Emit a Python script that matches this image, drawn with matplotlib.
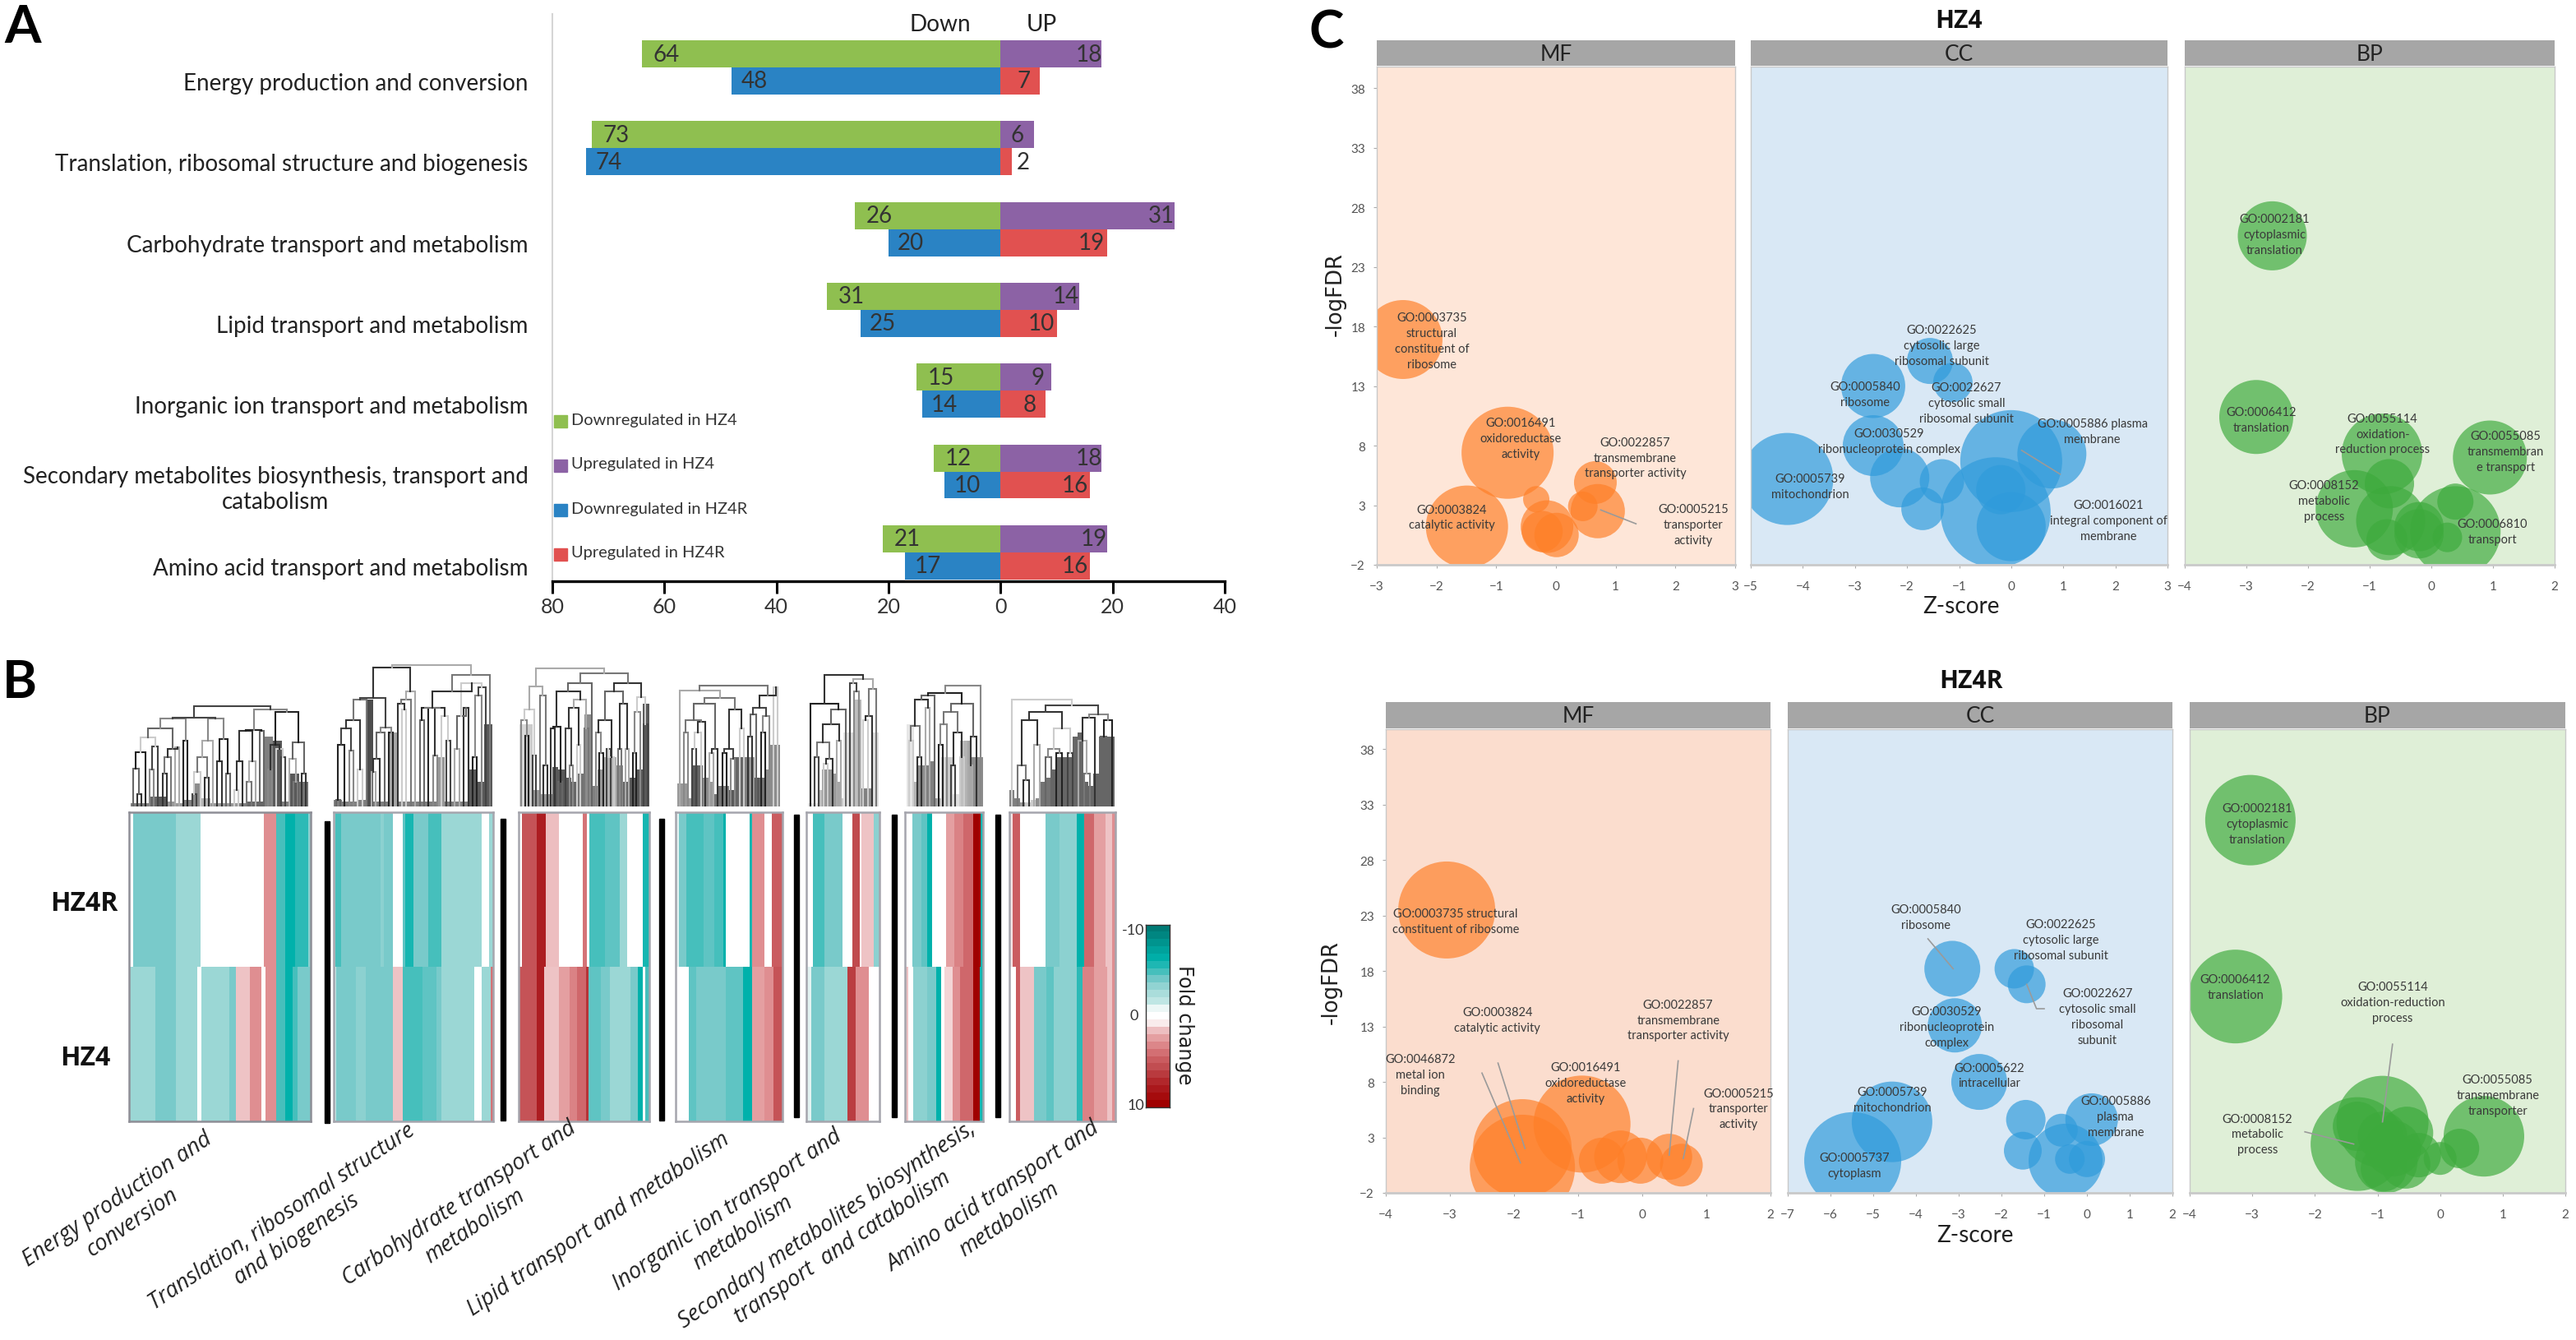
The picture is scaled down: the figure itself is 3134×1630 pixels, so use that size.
import matplotlib
matplotlib.use('Agg')
import matplotlib.pyplot as plt
import numpy as np
from matplotlib.colors import LinearSegmentedColormap

W, H = 3134, 1631
plt.rcParams['font.family'] = ['Lato', 'DejaVu Sans']

# ---- panel A data
cats = ['Energy production and conversion',
        'Translation, ribosomal structure and biogenesis',
        'Carbohydrate transport and metabolism',
        'Lipid transport and metabolism',
        'Inorganic ion transport and metabolism',
        'Secondary metabolites biosynthesis, transport and\ncatabolism',
        'Amino acid transport and metabolism']
down_hz4 = [64, 73, 26, 31, 15, 12, 21]
up_hz4 = [18, 6, 31, 14, 9, 18, 19]
down_hz4r = [48, 74, 20, 25, 14, 10, 17]
up_hz4r = [7, 2, 19, 10, 8, 16, 16]
legend_names = ['Downregulated in HZ4', 'Upregulated in HZ4',
                'Downregulated in HZ4R', 'Upregulated in HZ4R']

# ---- panel B data, fold change runs (value, run width) per category
p1_top_v = [0, -4, -3, 0, 3, -5, -6.5, -5.5, -3.5]
p1_top_n = [12, 115, 68, 173, 32, 25, 27, 36, 7]
p1_bot_v = [-3, -4, -3, 0, -3, -4, 1.5, 3, 0, 3, -5, -6.5, -5, -4]
p1_bot_n = [72, 55, 58, 13, 75, 19, 38, 30, 12, 28, 25, 20, 15, 35]
p2_top_v = [-1.5, -5, -4, -3.5, -4, 0, -4.5, -6, -4, -5, -3, 0, -3]
p2_top_n = [4, 16, 107, 10, 25, 25, 7, 23, 40, 37, 108, 20, 12]
p2_bot_v = [-1.5, -4, -3.5, -4, 1.5, -5, -4.5, -4, -3, 0, -3, 4]
p2_bot_n = [7, 53, 27, 75, 25, 55, 38, 14, 88, 20, 25, 7]
p3_top_v = [0, 5.5, 8, 1.7, 0, 4, 0, -5, -4.5, -3, 0, -6]
p3_top_n = [8, 42, 23, 35, 65, 12, 6, 42, 40, 20, 43, 20]
p3_bot_v = [5.5, 8, 1.5, 2.5, 3.5, 4.5, 7, -4.5, -4, -3, -4, -6.5, 0, -5]
p3_bot_n = [50, 20, 38, 30, 20, 25, 7, 33, 25, 55, 20, 13, 7, 13]
p4_top_v = [-1, -4, -5, -4.5, -5, -6.5, 0, -6, 3, 0, 5]
p4_top_n = [10, 20, 45, 30, 25, 7, 63, 8, 32, 20, 30]
p4_bot_v = [0, -4.5, -4, -4.5, -6.5, 2.5, 3, 5.5]
p4_bot_n = [35, 20, 80, 47, 26, 32, 25, 25]
p5_top_v = [0, -5, -4, 0, 6, 0, 1.5, -3.5]
p5_top_n = [17, 33, 50, 25, 20, 6, 34, 15]
p5_bot_v = [-1, -4, -3, 6.5, 3, 0]
p5_bot_n = [13, 37, 63, 22, 35, 30]
p6_top_v = [0, -4, -4.5, -6.5, 0, 2.5, 3.5, 4.5, 10, -6]
p6_top_n = [20, 25, 15, 13, 40, 22, 25, 27, 20, 6]
p6_bot_v = [1.5, 0, -3.5, -4, -6.5, 0, 1.2, 3, 4.5, 10, -6]
p6_bot_n = [8, 14, 38, 25, 13, 10, 22, 20, 35, 20, 8]
p7_top_v = [1, 5, 0, -4, -3.5, -6.5, 4.5, 2.5, 1.5, 3]
p7_top_n = [10, 20, 70, 37, 47, 21, 27, 30, 20, 8]
p7_bot_v = [0, 5, 1.5, -4, -4.5, -3.5, -5.5, 3.5, 2.5, 1.5, 3]
p7_bot_n = [17, 13, 37, 35, 20, 62, 16, 32, 35, 15, 8]

# dendrograms: (height, left, right), 0 is a leaf
tree1 = (122,
         (108,
          (107, (95, (84, (66, (46, 0, (15, 0, 0)), 0), (73, (45, 0, 0), 0)),
                 (70, (60, (40, 0, 0), 0), (72, 0, 0))), (80, 0, 0)),
          (107, (80, (60, (42, (15, 0, 0), 0), (35, 0, 0)), 0), (82, (55, 0, 0), (40, 0, 0)))),
         (118, (93, (92, (55, (20, 0, 0), 0), (55, (30, 0, 0), 0)), (92, 0, 0)),
          (115, (75, (45, 0, 0), (70, 0, (60, 0, 0))), (78, (58, 0, (30, 0, 0)), (40, 0, 0)))))
tree2 = (172,
         (169,
          (132,
           (130, (105, (95, (75, (8, 0, 0), 0), (68, 0, 0)), (45, 0, 0)), 0),
           (96, (90, (58, (42, 0, 0), 0), 0), (90, 0, 0))),
          (140, (130, (125, 0, (118, 0, 0)), 0), 0)),
         (160,
          (140, (120, (120, (105, 0, 0), 0), (120, (62, 0, 0), (110, 0, (80, 0, 0)))),
           (150, (110, (70, 0, 0), (120, 0, 0)), (145, (135, (60, 0, 0), 0), 0))),
          0))
tree3 = (168,
         (146, (118, (105, 0, (86, 0, 0)), (62, 0, 0)), (135, 0, (50, 0, 0))),
         (162,
          (150,
           (140, (97, (95, 0, 0), (30, 0, 0)), (130, (120, (95, 0, (50, 0, 0)), (75, 0, 0)), (95, 0, 0))),
           0),
          (150, (140, (105, (90, 0, (65, 0, 0)), (60, (70, 0, 0), 0)), (125, (70, 0, 0), (70, 0, 0))),
           (133, (115, (65, 0, 0), 0), (100, 0, 0)))))
tree4 = (147,
         (141, 0,
          (132, (125, (105, (90, 0, 0), (103, (90, (70, 0, 0), 0), 0)), (70, (65, 0, 0), 0)),
           (118, (70, (65, 0, 0), (58, 0, 0)), (95, 0, 0)))),
         (135, (120, (112, (85, 0, 0), 0), (110, (90, 0, 0), 0)), (145, 0, 0)))
tree5 = (160,
         (125, 0, (118, (100, (78, (60, 0, 0), (58, (52, 0, 0), 0)), (80, 0, 0)), 0)),
         (155, (150, 0, (140, 0, 0)), (143, (110, (105, 0, 0), 0), 0)))
tree6 = (147,
         (138,
          (135, (130, (98, (80, 0, 0), (60, 0, 0)), (120, 0, 0)), 0),
          (125, (115, (100, (75, 0, 0), 0), (90, (50, 0, 0), (60, 0, 0))), (85, (50, 0, 0), 0))),
         0)
tree7 = (130,
         0,
         (123, (115, (105, (50, 0, (32, 0, 0)), (75, 0, 0)), (95, (70, (60, 0, 0), (65, 0, 0)), (65, 0, 0))),
          (112, (108, (80, 0, (40, 0, 0)), 0), (105, (85, 0, 0), 0))))

# grey fill under the leaves
fill1_h = [4, 4, 12, 12, 6, 4, 8, 28, 10, 4, 4, 4, 4, 6, 6, 85, 80, 6, 40, 30]
fill1_g = [.5, .5, .4, .35, .6, .6, .5, .55, .7, .6, .6, .6, .5, .4, .4, .5, .35, .5, .35, .45]
fill2_h = [8, 6, 6, 8, 130, 6, 6, 90, 6, 6, 6, 6, 6, 60, 6, 6, 6, 45, 30, 100]
fill2_g = [.5, .5, .5, .5, .3, .5, .5, .65, .5, .5, .5, .5, .5, .6, .5, .5, .5, .35, .35, .35]
fill3_h = [100, 100, 20, 15, 15, 48, 45, 35, 30, 40, 112, 25, 45, 60, 60, 50, 30, 35, 45, 125]
fill3_g = [.85, .8, .6, .6, .6, .35, .35, .35, .4, .45, .55, .5, .6, .7, .7, .55, .4, .35, .35, .35]
fill4_h = [28, 28, 10, 50, 50, 35, 30, 15, 25, 25, 20, 60, 60, 60, 60, 35, 35, 45, 75, 75]
fill4_g = [.6, .6, .6, .35, .4, .55, .6, .45, .45, .5, .35, .4, .4, .5, .6, .35, .45, .55, .55, .55]
fill5_h = [4, 4, 4, 20, 45, 45, 45, 40, 30, 10, 90, 90, 90, 130, 130, 22, 22, 22, 90, 90]
fill5_g = [.9, .9, .9, .75, .6, .55, .6, .6, .65, .8, .9, .88, .85, .75, .72, .5, .5, .55, .88, .88]
fill6_h = [100, 100, 30, 50, 50, 50, 55, 10, 10, 60, 60, 60, 15, 15, 80, 80, 80, 60, 60, 60]
fill6_g = [.9, .9, .7, .55, .55, .5, .5, .6, .75, .85, .8, .8, .88, .88, .75, .7, .65, .55, .55, .55]
fill7_h = [20, 10, 5, 5, 8, 10, 30, 35, 45, 60, 60, 60, 85, 90, 30, 25, 40, 85, 85, 85]
fill7_g = [.5, .5, .6, .8, .8, .55, .45, .45, .4, .4, .4, .4, .4, .4, .4, .4, .4, .4, .4, .4]

cats_b = ['Energy production and\nconversion',
          'Translation, ribosomal structure\nand biogenesis',
          'Carbohydrate transport and\nmetabolism',
          'Lipid transport and metabolism',
          'Inorganic ion transport and\nmetabolism',
          'Secondary metabolites biosynthesis,\ntransport  and catabolism',
          'Amino acid transport and\nmetabolism']

# ---- panel C data, z-score, -logFDR and bubble radius
hz4_mf_x = [-2.56, -0.81, -1.49, 0.66, 0.70, -0.33, -0.23, 0.01, 0.45, -0.15]
hz4_mf_y = [16.9, 7.4, 1.2, 4.9, 2.5, 3.5, 0.8, 0.5, 2.9, 1.2]
hz4_mf_r = [48, 56, 50, 26, 33, 16, 25, 27, 18, 32]
hz4_cc_x = [-4.3, -2.65, -2.65, -1.56, -1.12, -2.14, -1.7, -1.33, 0.78, 0, -0.3, 0, -0.2]
hz4_cc_y = [5.2, 13, 8, 15.1, 13.3, 5.3, 2.7, 5, 7.3, 6.7, 2.4, 1.2, 4.3]
hz4_cc_r = [56, 39, 37, 28, 24, 36, 26, 27, 42, 62, 67, 42, 30]
hz4_bp_x = [-2.58, -2.84, -0.8, 0.95, -1.25, 0.39, -0.68, 0.39, -0.66, -0.2, -0.72, 0.26, -0.2]
hz4_bp_y = [25.6, 10.4, 7.3, 7, 2.7, 0.8, 4.8, 3.3, 1.7, 1.2, 0.1, 0.3, 0.6]
hz4_bp_r = [42, 45, 49, 45, 47, 55, 30, 22, 42, 30, 25, 18, 30]
hz4r_mf_x = [-3.05, -0.94, -1.87, -1.87, -0.34, -0.63, -0.03, 0.42, 0.61]
hz4r_mf_y = [23.5, 4.2, 2, 0.3, 1.25, 0.9, 0.9, 1.25, 0.5]
hz4r_mf_r = [59, 59, 60, 64, 32, 28, 28, 28, 26]
hz4r_cc_x = [-5.48, -4.56, -3.15, -3.09, -2.52, -1.7, -1.41, 0.11, -1.43, -1.5, -0.5, -0.6, 0, -0.4]
hz4r_cc_y = [0.9, 4.4, 18.2, 13.1, 8, 18.2, 16.8, 4.6, 4.6, 1.8, 0.9, 3.65, 1.05, 1.05]
hz4r_cc_r = [59, 49, 34, 33, 34, 24, 23, 32, 24, 23, 45, 20, 22, 18]
hz4r_bp_x = [-3.03, -3.27, -0.92, 0.7, -1.32, -0.92, -0.53, -0.86, -0.34, 0.31, 0, -1.32, -0.75, -0.55, -0.9]
hz4r_bp_y = [31.6, 15.7, 4.4, 3.1, 2.4, 3.1, 3.4, 0.8, 1.4, 2, 1.1, 4, 2, 0.6, 0.2]
hz4r_bp_r = [55, 57, 56, 49, 57, 30, 32, 38, 27, 24, 20, 30, 34, 30, 28]

hz4_mf_lab = ['GO:0003735\nstructural\nconstituent of\nribosome', 'GO:0016491\noxidoreductase\nactivity',
              'GO:0022857\ntransmembrane\ntransporter activity', 'GO:0003824\ncatalytic activity',
              'GO:0005215\ntransporter\nactivity']
hz4_cc_lab = ['GO:0022625\ncytosolic large\nribosomal subunit', 'GO:0005840\nribosome',
              'GO:0022627\ncytosolic small\nribosomal subunit', 'GO:0030529\nribonucleoprotein complex',
              'GO:0005886 plasma\nmembrane', 'GO:0005739\nmitochondrion',
              'GO:0016021\nintegral component of\nmembrane']
hz4_bp_lab = ['GO:0002181\ncytoplasmic\ntranslation', 'GO:0006412\ntranslation',
              'GO:0055114\noxidation-\nreduction process', 'GO:0055085\ntransmembran\ne transport',
              'GO:0008152\nmetabolic\nprocess', 'GO:0006810\ntransport']
hz4r_mf_lab = ['GO:0003735 structural\nconstituent of ribosome', 'GO:0003824\ncatalytic activity',
               'GO:0022857\ntransmembrane\ntransporter activity', 'GO:0046872\nmetal ion\nbinding',
               'GO:0016491\noxidoreductase\nactivity', 'GO:0005215\ntransporter\nactivity']
hz4r_cc_lab = ['GO:0005840\nribosome', 'GO:0022625\ncytosolic large\nribosomal subunit',
               'GO:0022627\ncytosolic small\nribosomal\nsubunit', 'GO:0030529\nribonucleoprotein\ncomplex',
               'GO:0005622\nintracellular', 'GO:0005739\nmitochondrion',
               'GO:0005886\nplasma\nmembrane', 'GO:0005737\ncytoplasm']
hz4r_bp_lab = ['GO:0002181\ncytoplasmic\ntranslation', 'GO:0006412\ntranslation',
               'GO:0055114\noxidation-reduction\nprocess', 'GO:0055085\ntransmembrane\ntransporter',
               'GO:0008152\nmetabolic\nprocess']


def px_axes(x0, y0, x1, y1):
    return fig.add_axes([x0 / W, 1 - y1 / H, (x1 - x0) / W, (y1 - y0) / H])


def px_text(x, y, s, px, **kw):
    kw.setdefault('ha', 'center')
    kw.setdefault('va', 'center')
    fig.text(x / W, 1 - y / H, s, fontsize=px * 0.72, **kw)


fig = plt.figure(figsize=(W / 100, H / 100), dpi=100)

# ---- A: bars
ax = px_axes(672, 18, 1490, 708)
ypos = np.arange(7)
bh = 0.335
ax.barh(ypos - bh / 2, [-v for v in down_hz4], bh, color='#8FBF50')
ax.barh(ypos - bh / 2, up_hz4, bh, color='#8C62A5')
ax.barh(ypos + bh / 2, [-v for v in down_hz4r], bh, color='#2A83C4')
ax.barh(ypos + bh / 2, up_hz4r, bh, color='#E15150')
ax.set_xlim(-80, 40)
ax.set_ylim(6.358, -0.661)
for i in ypos:
    ax.text(-down_hz4[i] + 4.4, i - bh / 2, down_hz4[i], ha='center', va='center', fontsize=20, color='#333333')
    ax.text(up_hz4[i] - 2.3 if up_hz4[i] > 6 else up_hz4[i] - 3, i - bh / 2, up_hz4[i], ha='center', va='center',
            fontsize=20, color='#333333')
    ax.text(-down_hz4r[i] + 4, i + bh / 2, down_hz4r[i], ha='center', va='center', fontsize=20, color='#333333')
    ux = up_hz4r[i] - 2.8 if up_hz4r[i] > 2 else up_hz4r[i] + 2
    ax.text(ux, i + bh / 2, up_hz4r[i], ha='center', va='center', fontsize=20, color='#333333')
ax.set_yticks(ypos + bh / 2, cats, fontsize=20, color='#222222', multialignment='center')
ax.tick_params(axis='y', length=0, pad=21)
ax.set_xticks([-80, -60, -40, -20, 0, 20, 40], ['80', '60', '40', '20', '0', '20', '40'], fontsize=18, color='#333333')
ax.tick_params(axis='x', length=11, width=2.2, pad=3)
for s in ['top', 'right']:
    ax.spines[s].set_visible(False)
ax.spines['left'].set_color('#D5D5D5')
ax.spines['left'].set_linewidth(1.5)
ax.spines['bottom'].set_linewidth(2.4)
px_text(1144, 30, 'Down', 28, color='#222222')
px_text(1267, 30, 'UP', 28, color='#222222')

# legend is hand placed in the reference
leg_colors = ['#8FBF50', '#8C62A5', '#2A83C4', '#E15150']
for name, col, yy in zip(legend_names, leg_colors, [513, 567, 621, 675]):
    fig.patches.append(plt.Rectangle((674 / W, 1 - (yy + 8) / H), 16 / W, 15 / H, color=col,
                                     transform=fig.transFigure))
    px_text(695, yy - 2, name, 20, ha='left', color='#333333')

px_text(28, 33, 'A', 64, fontweight='bold', color='black')
px_text(24, 831, 'B', 64, fontweight='bold', color='black')
px_text(1614, 40, 'C', 64, fontweight='bold', color='black')

# ---- B: heatmaps and dendrograms
fold_cmap = LinearSegmentedColormap.from_list('fold', [
    (0.0, '#007A75'), (0.1, '#009A94'), (0.175, '#00B2AC'), (0.25, '#45BFBC'), (0.3, '#7CCBCB'),
    (0.35, '#9CD8D6'), (0.425, '#C5E8E6'), (0.475, '#FFFFFF'), (0.525, '#FFFFFF'), (0.575, '#EFC5C7'),
    (0.65, '#E08F92'), (0.725, '#D0686C'), (0.8, '#C04A4E'), (0.9, '#AD1E22'), (1.0, '#A00000')], N=256)

heat_x = [(157, 378), (406, 600), (631, 790), (822, 952), (981, 1070), (1101, 1196), (1228, 1357)]
dendro_x = [(159, 375), (406, 599), (632, 790), (824, 949), (983, 1069), (1103, 1196), (1228, 1356)]
heat_rows = [(p1_top_v, p1_top_n, p1_bot_v, p1_bot_n), (p2_top_v, p2_top_n, p2_bot_v, p2_bot_n),
             (p3_top_v, p3_top_n, p3_bot_v, p3_bot_n), (p4_top_v, p4_top_n, p4_bot_v, p4_bot_n),
             (p5_top_v, p5_top_n, p5_bot_v, p5_bot_n), (p6_top_v, p6_top_n, p6_bot_v, p6_bot_n),
             (p7_top_v, p7_top_n, p7_bot_v, p7_bot_n)]
trees = [tree1, tree2, tree3, tree4, tree5, tree6, tree7]
fills_h = [fill1_h, fill2_h, fill3_h, fill4_h, fill5_h, fill6_h, fill7_h]
fills_g = [fill1_g, fill2_g, fill3_g, fill4_g, fill5_g, fill6_g, fill7_g]
line_greys = ['#333333', '#666666', '#222222', '#888888', '#444444', '#cccccc', '#333333', '#777777', '#aaaaaa']
sep_bars = [(398, 1000, 1367), (612, 997, 1364), (805, 997, 1364), (969, 992, 1360),
            (1088, 992, 1360), (1214, 992, 1360)]


def count_leaves(t):
    return 1 if not isinstance(t, tuple) else count_leaves(t[1]) + count_leaves(t[2])


def draw_tree(ax, t, state):
    if not isinstance(t, tuple):
        state['x'] += 1
        return state['x'] - 0.5, 0
    xl, hl = draw_tree(ax, t[1], state)
    xr, hr = draw_tree(ax, t[2], state)
    col = line_greys[state['c'] % len(line_greys)]
    state['c'] += 1
    ax.plot([xl, xl, xr, xr], [hl, t[0], t[0], hr], color=col, lw=1.5, solid_joinstyle='miter')
    return (xl + xr) / 2, t[0]


for i in range(7):
    x0, x1 = heat_x[i]
    ax = px_axes(x0, 989, x1, 1365)
    tv, tn, bv, bn = heat_rows[i]
    mat = np.vstack([np.repeat(tv, tn), np.repeat(bv, bn)])
    ax.imshow(mat, cmap=fold_cmap, vmin=-10, vmax=10, aspect='auto', interpolation='nearest')
    ax.set_xticks([])
    ax.set_yticks([])
    for s in ax.spines.values():
        s.set_color('#A5A5AD' if i > 0 else '#8E8E96')
        s.set_linewidth(1.8)

    dx0, dx1 = dendro_x[i]
    ax = px_axes(dx0, 792, dx1, 982)
    n = count_leaves(trees[i])
    nb = len(fills_h[i])
    bw = n / nb
    ax.bar((np.arange(nb) + 0.5) * bw, fills_h[i], width=bw, color=[str(g) for g in fills_g[i]], lw=0)
    draw_tree(ax, trees[i], {'x': 0, 'c': i})
    ax.set_xlim(0, n)
    ax.set_ylim(0, 190)
    ax.axis('off')

for x, y0, y1 in sep_bars:
    fig.patches.append(plt.Rectangle(((x - 3) / W, 1 - y1 / H), 6 / W, (y1 - y0) / H, color='black',
                                     transform=fig.transFigure))

px_text(102, 1100, 'HZ4R', 32, fontweight='bold', color='#111111', family=['Open Sans', 'DejaVu Sans'])
px_text(104, 1288, 'HZ4', 32, fontweight='bold', color='#111111', family=['Open Sans', 'DejaVu Sans'])

label_centres = [(152, 1473), (352, 1494), (568, 1478), (728, 1490), (894, 1486), (1016, 1504), (1218, 1470)]
for (x, y), s in zip(label_centres, cats_b):
    px_text(x, y, s, 27, rotation=34, style='italic', color='#222222', multialignment='center',
            rotation_mode='anchor', linespacing=1.25, family=['Open Sans', 'DejaVu Sans'])

# colour key
ax = px_axes(1394, 1126, 1423, 1348)
ax.imshow(np.linspace(-10, 10, 25)[:, None], cmap=fold_cmap, vmin=-10, vmax=10, aspect='auto',
          interpolation='nearest')
ax.set_xticks([])
ax.set_yticks([])
for s in ax.spines.values():
    s.set_linewidth(1)
    s.set_color('#333333')
px_text(1392, 1132, '-10', 18, ha='right', color='#333333')
px_text(1385, 1236, '0', 18, ha='right', color='#333333')
px_text(1392, 1345, '10', 18, ha='right', color='#333333')
px_text(1441, 1247, 'Fold change', 24, rotation=270, color='#222222', family=['DejaVu Sans'])

# ---- C: facets
BG_BLUE = '#D9E8F5'
BG_GREEN = '#DFEFD7'
ORANGE = '#FF7F27'
BLUE = '#2F9BDB'
GREEN = '#3DAA3C'
Y_TICKS = [-2, 3, 8, 13, 18, 23, 28, 33, 38]


def facet(rect, strip_top, xlim, title, bg, col, xs, ys, rs, labs, lab_pos, leaders, show_y):
    ax = px_axes(*rect)
    ax.set_facecolor(bg)
    ax.scatter(xs, ys, s=[(2 * r * 0.72) ** 2 for r in rs], color=col, alpha=0.68, linewidths=0, zorder=2)
    for (lx, ly) in leaders:
        ax.plot(lx, ly, color='#9a9a9a', lw=1.2, zorder=3)
    for s, (tx, ty) in zip(labs, lab_pos):
        ax.text(tx, ty, s, ha='center', va='center', fontsize=10.5, color='#3a3a3a', linespacing=1.45, zorder=4,
                clip_on=False)
    ax.set_xlim(*xlim)
    ax.set_ylim(-2, 39.8)
    ax.set_xticks(np.arange(xlim[0], xlim[1] + 1))
    ax.tick_params(axis='x', labelsize=11, labelcolor='#555555', color='#aaaaaa', length=3, pad=11)
    if show_y:
        ax.set_yticks(Y_TICKS)
        ax.tick_params(axis='y', labelsize=11, labelcolor='#555555', color='#aaaaaa', length=3, pad=7)
    else:
        ax.set_yticks([])
    for s in ax.spines.values():
        s.set_color('#C9C9C9')
        s.set_linewidth(1)
    ax.spines['bottom'].set_linewidth(2)
    st = px_axes(rect[0], strip_top, rect[2], rect[1] - 1)
    st.set_facecolor('#A6A6A6')
    st.set_xticks([])
    st.set_yticks([])
    for s in st.spines.values():
        s.set_visible(False)
    st.text(0.5, 0.48, title, transform=st.transAxes, ha='center', va='center', fontsize=19, color='#222222')
    return ax


facet((1675, 82, 2111, 688), 50, (-3, 3), 'MF', '#FEE6D8', ORANGE, hz4_mf_x, hz4_mf_y, hz4_mf_r, hz4_mf_lab,
      [(-2.08, 16.8), (-0.59, 8.65), (1.33, 7), (-1.74, 2), (2.3, 1.4)],
      [([0.75, 1.34], [2.6, 1.44])], True)
facet((2130, 82, 2637, 688), 50, (-5, 3), 'CC', BG_BLUE, BLUE, hz4_cc_x, hz4_cc_y, hz4_cc_r, hz4_cc_lab,
      [(-1.33, 16.4), (-2.81, 12.3), (-0.86, 11.6), (-2.34, 8.4), (1.56, 9.2), (-3.86, 4.6), (1.87, 1.7)],
      [([0.2, 0.94], [7.6, 5.6])], False)
facet((2658, 82, 3108, 688), 50, (-4, 2), 'BP', BG_GREEN, GREEN, hz4_bp_x, hz4_bp_y, hz4_bp_r, hz4_bp_lab,
      [(-2.54, 25.7), (-2.76, 10.2), (-0.79, 9), (1.21, 7.5), (-1.74, 3.4), (0.99, 0.8)], [], False)
facet((1686, 888, 2154, 1452), 855, (-4, 2), 'MF', '#FBDDCE', ORANGE, hz4r_mf_x, hz4r_mf_y, hz4r_mf_r, hz4r_mf_lab,
      [(-2.91, 22.5), (-2.26, 13.6), (0.56, 13.6), (-3.46, 8.7), (-0.89, 7.9), (1.5, 5.6)],
      [([-2.5, -1.9], [8.8, 0.7]), ([-2.25, -1.83], [9.7, 2]), ([0.56, 0.42], [9.9, 1.4]),
       ([0.8, 0.64], [5.6, 1.1])], True)
facet((2175, 888, 2643, 1452), 855, (-7, 2), 'CC', BG_BLUE, BLUE, hz4r_cc_x, hz4r_cc_y, hz4r_cc_r, hz4r_cc_lab,
      [(-3.76, 22.9), (-0.61, 20.8), (0.25, 13.9), (-3.28, 13), (-2.29, 8.6), (-4.56, 6.4), (0.67, 4.9), (-5.44, 0.5)],
      [([-3.72, -3.13], [20.9, 18.2]), ([-1.41, -1.18, -1.0], [16.8, 14.6, 14.6])], False)
facet((2664, 888, 3121, 1452), 855, (-4, 2), 'BP', BG_GREEN, GREEN, hz4r_bp_x, hz4r_bp_y, hz4r_bp_r, hz4r_bp_lab,
      [(-2.92, 31.3), (-3.27, 16.6), (-0.76, 15.2), (0.92, 6.8), (-2.92, 3.3)],
      [([-0.76, -0.92], [11.4, 4.4]), ([-2.16, -1.38], [3.5, 2.4])], False)

px_text(2383, 26, 'HZ4', 30, fontweight='bold', color='#111111', family=['Open Sans', 'DejaVu Sans'])
px_text(2398, 829, 'HZ4R', 30, fontweight='bold', color='#111111', family=['Open Sans', 'DejaVu Sans'])
px_text(2386, 738, 'Z-score', 28, color='#222222')
px_text(2403, 1503, 'Z-score', 28, color='#222222')
px_text(1625, 358, '-logFDR', 26, rotation=90, color='#222222', family=['DejaVu Sans'])
px_text(1620, 1195, '-logFDR', 26, rotation=90, color='#222222', family=['DejaVu Sans'])

plt.savefig('out.png', dpi=100)
